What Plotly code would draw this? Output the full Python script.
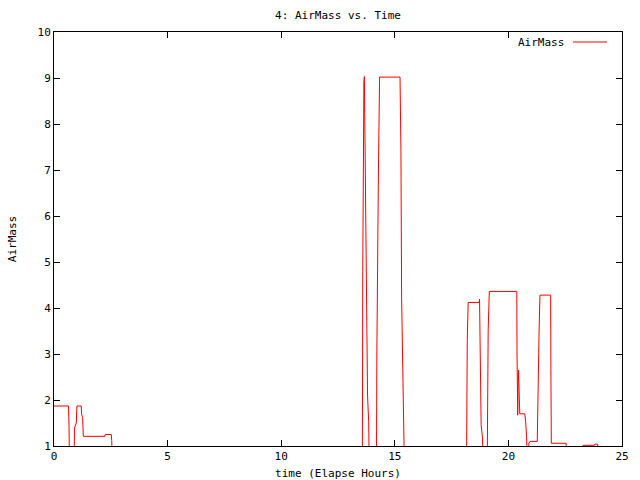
import plotly.graph_objects as go

# Elapsed time (hours) and airmass readings; values below 1 are off-scale (clipped)
time_h = [
    0.00, 0.64, 0.66, 0.70,
    0.88, 0.90, 0.98, 1.01, 1.20, 1.21, 1.26, 1.29, 2.24, 2.25, 2.52, 2.54, 2.61,
    13.57, 13.59, 13.62, 13.64, 13.66, 13.70, 13.75, 13.80, 13.85, 13.89,
    14.19, 14.21, 14.28, 14.33, 15.23, 15.27, 15.30, 15.35, 15.39, 15.44,
    18.15, 18.17, 18.19, 18.23, 18.71, 18.73, 18.74, 18.76, 18.80, 18.86, 18.93,
    19.06, 19.08, 19.11, 19.16, 20.37, 20.38, 20.41, 20.43, 20.45, 20.47, 20.50,
    20.72, 20.76, 20.80, 20.83,
    20.87, 20.90, 20.95, 21.27, 21.29, 21.35, 21.39, 21.86, 21.87, 21.89, 22.54, 22.56,
    23.26, 23.28, 23.78, 23.80, 23.93, 23.95,
]
airmass = [
    1.87, 1.87, 1.43, 0.0,
    0.0, 1.39, 1.50, 1.87, 1.87, 1.70, 1.62, 1.21, 1.21, 1.25, 1.25, 1.12, 0.0,
    0.0, 4.79, 8.69, 8.92, 9.03, 7.33, 3.96, 2.11, 1.53, 0.0,
    0.0, 3.02, 7.00, 9.02, 9.02, 7.43, 4.22, 2.22, 1.78, 0.0,
    0.0, 1.76, 3.32, 4.12, 4.12, 4.19, 3.54, 2.25, 1.46, 1.17, 0.0,
    0.0, 1.84, 3.52, 4.36, 4.36, 3.05, 1.67, 2.40, 2.65, 2.20, 1.70,
    1.70, 1.53, 1.20, 0.0,
    0.0, 1.06, 1.10, 1.10, 1.86, 3.48, 4.28, 4.28, 2.69, 1.06, 1.06, 0.0,
    0.0, 1.015, 1.015, 1.04, 1.04, 0.0,
]

x_ticks = [0, 5, 10, 15, 20, 25]
y_ticks = [1, 2, 3, 4, 5, 6, 7, 8, 9, 10]

FONT = "DejaVu Sans Mono"

fig = go.Figure()
fig.add_trace(go.Scatter(
    x=time_h, y=airmass, mode="lines", name="AirMass",
    line=dict(color="#ff0000", width=1), showlegend=False,
))

axis_common = dict(
    showgrid=False, zeroline=False, showline=True, linecolor="black", linewidth=1,
    mirror="allticks", ticks="inside", ticklen=6, tickcolor="black", tickwidth=1,
    tickfont=dict(family=FONT, size=11, color="black"), automargin=False,
)

fig.update_layout(
    width=640, height=480,
    margin=dict(l=54, r=18, t=32, b=34),
    paper_bgcolor="white", plot_bgcolor="white",
    font=dict(family=FONT, size=11, color="black"),
    title=dict(text="4: AirMass vs. Time", x=0.5, xref="paper", y=1 - 15 / 480,
               yref="container", yanchor="middle", xanchor="center",
               font=dict(family=FONT, size=11, color="black")),
    xaxis=dict(range=[0, 25], tickvals=x_ticks, ticktext=[str(v) for v in x_ticks],
               title=dict(text="time (Elapse Hours)", standoff=8,
                          font=dict(family=FONT, size=11)),
               **axis_common),
    yaxis=dict(range=[1, 10], tickvals=y_ticks, ticktext=[str(v) for v in y_ticks],
               title=dict(text="AirMass", standoff=18,
                          font=dict(family=FONT, size=11)),
               **axis_common),
)

# Legend in gnuplot style: label then line sample
fig.add_annotation(text="AirMass", xref="paper", yref="paper",
                   x=(566 - 54) / 568, y=(446 - 42) / 414,
                   xanchor="right", yanchor="middle", showarrow=False,
                   font=dict(family=FONT, size=11, color="black"))
fig.add_shape(type="line", xref="paper", yref="paper",
              x0=(573 - 54) / 568, x1=(607 - 54) / 568,
              y0=(446 - 42) / 414, y1=(446 - 42) / 414,
              line=dict(color="#ff0000", width=1))

fig.write_html("out.html")
